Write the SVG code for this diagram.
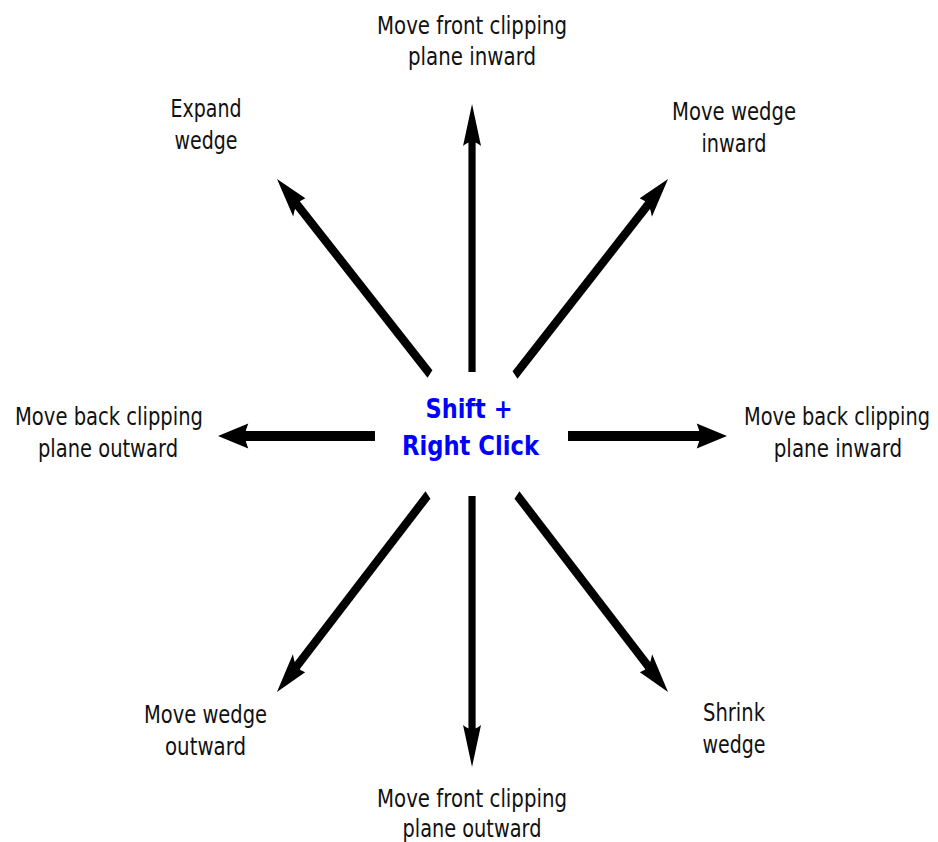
<svg xmlns="http://www.w3.org/2000/svg" width="938" height="842" viewBox="0 0 938 842">
<style>
  .lbl { font-family: "DejaVu Sans", "Liberation Sans", sans-serif; font-size: 25.5px; fill: #111; text-anchor: middle; }
  .ctr { font-family: "DejaVu Sans", "Liberation Sans", sans-serif; font-size: 27px; font-weight: bold; fill: #0000ff; text-anchor: middle; }
  .arr { stroke: #000; stroke-width: 10; fill: none; stroke-linecap: butt; marker-end: url(#head); }
</style>
<defs>
  <marker id="head" markerUnits="userSpaceOnUse" orient="auto" refX="-32" refY="0" markerWidth="50" markerHeight="30" viewBox="-44 -15 50 30" overflow="visible">
    <path d="M0,0 L-42,-12.5 Q-34,0 -42,12.5 Z" fill="#000"/>
  </marker>
</defs>
<rect width="938" height="842" fill="#fff"/>
<g id="connectors" transform="scale(0.72 1)">
  <path class="arr" d="M655.6,372 L655.6,136"/>
  <path class="arr" d="M655.6,496 L655.6,735"/>
  <path class="arr" d="M520.8,436 L334.8,436"/>
  <path class="arr" d="M788.9,436 L977.7,436"/>
  <path class="arr" d="M597.2,374 L408.3,200.6"/>
  <path class="arr" d="M715.3,375 L904.3,200.7"/>
  <path class="arr" d="M594.4,495 L408,670.1"/>
  <path class="arr" d="M718,495 L904.5,670.1"/>
</g>
<g id="center">
  <text class="ctr" x="469" y="418" textLength="87" lengthAdjust="spacingAndGlyphs">Shift +</text>
  <text class="ctr" x="470.5" y="455" textLength="137" lengthAdjust="spacingAndGlyphs">Right Click</text>
</g>
<g id="front-in">
  <text class="lbl" x="472" y="34" textLength="190" lengthAdjust="spacingAndGlyphs">Move front clipping</text>
  <text class="lbl" x="472" y="65" textLength="128" lengthAdjust="spacingAndGlyphs">plane inward</text>
</g>
<g id="expand">
  <text class="lbl" x="206" y="117" textLength="71" lengthAdjust="spacingAndGlyphs">Expand</text>
  <text class="lbl" x="206" y="149" textLength="63" lengthAdjust="spacingAndGlyphs">wedge</text>
</g>
<g id="wedge-in">
  <text class="lbl" x="734" y="120" textLength="124" lengthAdjust="spacingAndGlyphs">Move wedge</text>
  <text class="lbl" x="734" y="152" textLength="65" lengthAdjust="spacingAndGlyphs">inward</text>
</g>
<g id="back-out">
  <text class="lbl" x="109" y="425" textLength="188" lengthAdjust="spacingAndGlyphs">Move back clipping</text>
  <text class="lbl" x="108" y="457" textLength="140" lengthAdjust="spacingAndGlyphs">plane outward</text>
</g>
<g id="back-in">
  <text class="lbl" transform="translate(837 425) scale(0.759 1)" x="0" y="0">Move back clipping</text>
  <text class="lbl" transform="translate(838 457) scale(0.78 1)" x="0" y="0">plane inward</text>
</g>
<g id="wedge-out">
  <text class="lbl" x="205.5" y="723" textLength="123" lengthAdjust="spacingAndGlyphs">Move wedge</text>
  <text class="lbl" x="205.5" y="755" textLength="81" lengthAdjust="spacingAndGlyphs">outward</text>
</g>
<g id="shrink">
  <text class="lbl" x="734" y="721" textLength="62" lengthAdjust="spacingAndGlyphs">Shrink</text>
  <text class="lbl" x="734" y="753" textLength="63" lengthAdjust="spacingAndGlyphs">wedge</text>
</g>
<g id="front-out">
  <text class="lbl" x="472" y="807" textLength="190" lengthAdjust="spacingAndGlyphs">Move front clipping</text>
  <text class="lbl" x="472" y="837" textLength="139" lengthAdjust="spacingAndGlyphs">plane outward</text>
</g>
</svg>
